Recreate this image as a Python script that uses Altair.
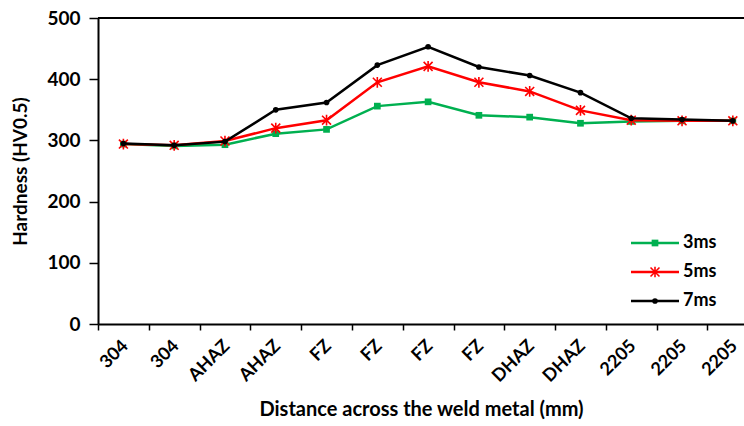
import altair as alt
import pandas as pd

# Measurement positions across the joint (left to right)
positions = ["304", "304", "AHAZ", "AHAZ", "FZ", "FZ", "FZ", "FZ",
             "DHAZ", "DHAZ", "2205", "2205", "2205"]

# Microhardness (HV0.5) for each pulse duration
hv_3ms = [294, 291, 293, 311, 318, 356, 363, 341, 338, 328, 331, 332, 332]
hv_5ms = [294, 292, 299, 320, 333, 395, 421, 395, 380, 349, 333, 332, 332]
hv_7ms = [295, 292, 298, 350, 362, 423, 453, 420, 406, 378, 336, 334, 332]

series = ["3ms", "5ms", "7ms"]
colors = ["#00B050", "#FF0000", "#000000"]
asterisk = "M-1,-1L1,1M1,-1L-1,1M0,-1.2L0,1.2"
shapes = ["square", asterisk, "circle"]
sizes = [45, 80, 32]

W, H = 646, 306

rows = []
for name, vals in zip(series, [hv_3ms, hv_5ms, hv_7ms]):
    for i, v in enumerate(vals):
        rows.append({"idx": i, "series": name, "hv": v})
df = pd.DataFrame(rows)

label_expr = "[" + ",".join(f"'{p}'" for p in positions) + "][round(datum.value + 0.5)]"

x_enc = alt.X(
    "idx:Q",
    scale=alt.Scale(domain=[-0.5, 12.22], nice=False, zero=False),
    axis=alt.Axis(
        values=[i - 0.5 for i in range(len(positions))],
        labelExpr=label_expr,
        labelOffset=27,
        labelAngle=315,
        labelAlign="right",
        labelBaseline="middle",
        labelFlush=False,
        labelOverlap=False,
        labelPadding=13,
        labelFontSize=18,
        labelFontWeight="bold",
        labelColor="black",
        tickSize=6,
        tickWidth=1.5,
        tickColor="black",
        domainColor="black",
        domainWidth=2,
        grid=False,
        title="Distance across the weld metal (mm)",
        titleFontSize=20,
        titleFontWeight="bold",
        titleColor="black",
        titlePadding=14,
    ),
)

y_enc = alt.Y(
    "hv:Q",
    scale=alt.Scale(domain=[0, 500], nice=False),
    axis=alt.Axis(
        values=[0, 100, 200, 300, 400, 500],
        labelFontSize=19,
        labelFontWeight="bold",
        labelColor="black",
        labelPadding=9,
        tickSize=9,
        tickWidth=1.5,
        tickColor="black",
        domainColor="black",
        domainWidth=2,
        grid=False,
        title="Hardness (HV0.5)",
        titleFontSize=19,
        titleFontWeight="bold",
        titleColor="black",
        titlePadding=16,
    ),
)

layers = []

# Upper frame line of the plot area
layers.append(
    alt.Chart(pd.DataFrame({"v": [500]})).mark_rule(color="black", strokeWidth=2).encode(
        y=alt.Y("v:Q", scale=alt.Scale(domain=[0, 500], nice=False)),
        x=alt.value(0), x2=alt.value(W),
    )
)

for name, col, shp, sz in zip(series, colors, shapes, sizes):
    sub = alt.Chart(df).transform_filter(alt.datum.series == name)
    layers.append(sub.mark_line(color=col, strokeWidth=2.5).encode(x=x_enc, y=y_enc))
    filled = name != "5ms"
    layers.append(
        sub.mark_point(shape=shp, size=sz, color=col, filled=filled, opacity=1,
                       strokeWidth=1.6 if not filled else 0.5).encode(x=x_enc, y=y_enc)
    )

# Legend in the lower right of the plot area
leg_y = [225, 254, 283]
for name, col, shp, sz, yy in zip(series, colors, shapes, sizes, leg_y):
    ld = pd.DataFrame({"series": [name]})
    layers.append(
        alt.Chart(ld).mark_rule(color=col, strokeWidth=2.5).encode(
            x=alt.value(533), x2=alt.value(581), y=alt.value(yy)
        )
    )
    filled = name != "5ms"
    layers.append(
        alt.Chart(ld).mark_point(shape=shp, size=sz, color=col, filled=filled, opacity=1,
                                 strokeWidth=1.6 if not filled else 0.5).encode(
            x=alt.value(557), y=alt.value(yy)
        )
    )
    layers.append(
        alt.Chart(ld).mark_text(align="left", baseline="middle", fontSize=18,
                                fontWeight="bold", color="black").encode(
            x=alt.value(585), y=alt.value(yy), text="series:N"
        )
    )

chart = alt.layer(*layers).properties(
    width=W,
    height=H,
    autosize=alt.AutoSizeParams(type="none"),
    padding={"left": 98, "top": 18, "right": 0, "bottom": 102},
).configure(
    font="Lato",
).configure_view(stroke=None)

chart.save("out.html", embed_options={"renderer": "svg", "actions": False})
